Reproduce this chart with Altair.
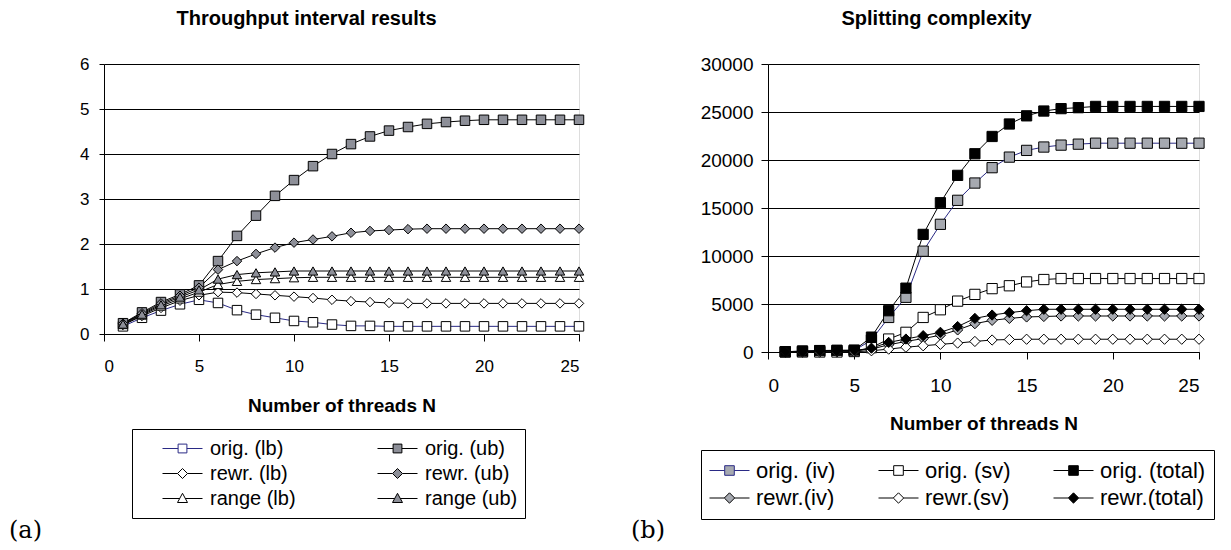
import altair as alt
import pandas as pd

FONT = "Liberation Sans"
SERIF = "DejaVu Serif"

# ---------------- data ----------------
N = list(range(1, 26))

# (a) Throughput interval results
series_a = ["orig. (lb)", "orig. (ub)", "rewr. (lb)", "rewr. (ub)", "range (lb)", "range (ub)"]
orig_lb = [0.17, 0.36, 0.52, 0.66, 0.76, 0.69, 0.53, 0.43, 0.36, 0.29, 0.26, 0.21, 0.18, 0.18, 0.17,
           0.17, 0.17, 0.17, 0.17, 0.17, 0.17, 0.17, 0.17, 0.17, 0.17]
orig_ub = [0.24, 0.48, 0.71, 0.88, 1.08, 1.62, 2.18, 2.63, 3.07, 3.42, 3.73, 4.00, 4.22, 4.39, 4.52,
           4.60, 4.67, 4.71, 4.74, 4.76, 4.76, 4.76, 4.76, 4.76, 4.76]
rewr_lb = [0.20, 0.40, 0.58, 0.74, 0.86, 0.93, 0.92, 0.89, 0.86, 0.83, 0.80, 0.76, 0.73, 0.71, 0.69,
           0.68, 0.68, 0.68, 0.68, 0.68, 0.68, 0.68, 0.68, 0.68, 0.68]
rewr_ub = [0.23, 0.46, 0.68, 0.85, 1.03, 1.43, 1.62, 1.78, 1.92, 2.03, 2.10, 2.17, 2.25, 2.29, 2.31,
           2.33, 2.34, 2.34, 2.34, 2.34, 2.34, 2.34, 2.34, 2.34, 2.34]
range_lb = [0.21, 0.42, 0.62, 0.78, 0.93, 1.10, 1.17, 1.21, 1.23, 1.25, 1.26, 1.26, 1.26, 1.26, 1.26,
            1.26, 1.26, 1.26, 1.26, 1.26, 1.26, 1.26, 1.26, 1.26, 1.26]
range_ub = [0.22, 0.44, 0.65, 0.82, 0.98, 1.22, 1.32, 1.36, 1.38, 1.40, 1.40, 1.40, 1.40, 1.40, 1.40,
            1.40, 1.40, 1.40, 1.40, 1.40, 1.40, 1.40, 1.40, 1.40, 1.40]
y_ticks_a = [0, 1, 2, 3, 4, 5, 6]

# (b) Splitting complexity
series_b = ["orig. (iv)", "orig. (sv)", "orig. (total)", "rewr.(iv)", "rewr.(sv)", "rewr.(total)"]
orig_iv = [30, 80, 130, 150, 150, 1250, 3600, 5700, 10500, 13300, 15800, 17600, 19200, 20300, 21000,
           21350, 21550, 21650, 21750, 21750, 21750, 21750, 21750, 21750, 21750]
orig_sv = [0, 0, 0, 0, 50, 450, 1350, 2050, 3600, 4400, 5300, 6000, 6600, 6900, 7300,
           7550, 7650, 7650, 7650, 7650, 7650, 7650, 7650, 7650, 7650]
orig_total = [30, 100, 150, 180, 200, 1550, 4300, 6650, 12250, 15550, 18400, 20650, 22450, 23750, 24600,
              25100, 25350, 25450, 25580, 25580, 25580, 25580, 25580, 25580, 25580]
rewr_iv = [20, 60, 100, 120, 130, 300, 750, 1100, 1400, 1750, 2300, 2950, 3300, 3500, 3650,
           3700, 3750, 3750, 3750, 3750, 3750, 3750, 3750, 3750, 3750]
rewr_sv = [0, 0, 0, 0, 20, 130, 300, 500, 650, 800, 930, 1100, 1250, 1300, 1330,
           1330, 1330, 1330, 1330, 1330, 1330, 1330, 1330, 1330, 1330]
rewr_total = [20, 60, 100, 120, 150, 400, 1000, 1350, 1700, 2050, 2650, 3500, 3850, 4100, 4300,
              4450, 4450, 4450, 4450, 4450, 4450, 4450, 4450, 4450, 4450]
y_ticks_b = [0, 5000, 10000, 15000, 20000, 25000, 30000]

x_ticks = [0, 5, 10, 15, 20, 25]
x_title = "Number of threads N"
title_a = "Throughput interval results"
title_b = "Splitting complexity"
panel_a = ["(a)"]
panel_b = ["(b)"]

# ---------------- styles ----------------
GRAY_A = "#8d8f98"
GRAY_B = "#a6a9b0"
NAVY = "#2a2a85"

SQ_A = "M-1,0H-0.22M0.22,0H1M-0.22,-0.22H0.22V0.22H-0.22Z"
DI_A = "M-1,0H-0.25M0.25,0H1M0,-0.25L0.25,0L0,0.25L-0.25,0Z"
TR_A = "M-1,0H-0.14M0.14,0H1M0,-0.26L0.25,0.2L-0.25,0.2Z"
SQ_B = "M-1,0H-0.24M0.24,0H1M-0.24,-0.24H0.24V0.24H-0.24Z"
DI_B = "M-1,0H-0.26M0.26,0H1M0,-0.26L0.26,0L0,0.26L-0.26,0Z"


def long_df(series, arrays):
    rows = []
    for k, (name, arr) in enumerate(zip(series, arrays)):
        for n, v in zip(N, arr):
            rows.append({"N": n, "value": v, "series": name, "k": k})
    return pd.DataFrame(rows)


def panel(df, series, y_dom, y_ticks, fills, shapes, leg_paths, line_cols, w, h,
          tick_fs, title_text, title_dx, leg_kw, panel_lab, lab_x, msize, xlab_pad, ytick_size,
          ylab_pad, title_pad):
    base = alt.Chart(df)
    xaxis = alt.Axis(values=x_ticks, grid=False, domainColor="black", tickColor="black",
                     tickSize=7, labelPadding=xlab_pad, labelFontSize=tick_fs, labelFont=FONT,
                     labelColor="black", title=x_title, titleFont=FONT, titleFontSize=19,
                     titleFontWeight="bold", titleColor="black", titlePadding=title_pad, format="d")
    yaxis = alt.Axis(values=y_ticks, grid=True, gridColor="black", gridWidth=1, gridOpacity=1,
                     domainColor="black", tickColor="black", tickSize=ytick_size, labelPadding=ylab_pad,
                     labelFontSize=tick_fs, labelFont=FONT, labelColor="black", title=None, format="d")
    X = alt.X("N:Q", scale=alt.Scale(domain=[0, 25], nice=False), axis=xaxis)
    Y = alt.Y("value:Q", scale=alt.Scale(domain=y_dom, nice=False), axis=yaxis)

    layers = []
    for col in dict.fromkeys(line_cols):
        members = [i for i, c in enumerate(line_cols) if c == col]
        layers.append(base.transform_filter(alt.FieldOneOfPredicate(field="k", oneOf=members))
                      .mark_line(strokeWidth=1, color=col)
                      .encode(x=X, y=Y, detail="k:O", order="N:Q"))

    fill_enc = alt.Fill("k:O", scale=alt.Scale(range=fills), legend=None)
    for shp in dict.fromkeys(shapes):
        members = [i for i, sh in enumerate(shapes) if sh == shp]
        layers.append(base.transform_filter(alt.FieldOneOfPredicate(field="k", oneOf=members))
                      .mark_point(shape=shp, filled=True, stroke="black", strokeWidth=1, opacity=1,
                                  size=msize)
                      .encode(x="N:Q", y="value:Q", fill=fill_enc))

    legend = alt.Legend(title=None, orient="none", direction="horizontal", symbolSize=1600,
                        symbolStrokeWidth=1, symbolOpacity=1,
                        labelFont=FONT, labelColor="black", strokeColor="black", fillColor="white",
                        labelLimit=400, **leg_kw)
    layers.append(base.transform_filter("false").mark_point(filled=True, strokeWidth=1, opacity=1).encode(
        x="N:Q", y="value:Q",
        color=alt.Color("series:N", scale=alt.Scale(domain=series, range=fills), legend=legend),
        stroke=alt.Stroke("series:N", scale=alt.Scale(domain=series, range=line_cols), legend=legend),
        shape=alt.Shape("series:N", scale=alt.Scale(domain=series, range=leg_paths), legend=legend)))
    layers.append(alt.Chart(pd.DataFrame({"t": panel_lab})).mark_text(
        font=SERIF, fontSize=24, align="left", baseline="middle", color="black").encode(
        x=alt.value(lab_x), y=alt.value(467), text="t:N"))
    return alt.layer(*layers).properties(
        width=w, height=h,
        title=alt.TitleParams(title_text, font=FONT, fontSize=20, fontWeight="bold", color="black",
                              anchor="middle", frame="group", dx=title_dx, offset=26))


df_a = long_df(series_a, [orig_lb, orig_ub, rewr_lb, rewr_ub, range_lb, range_ub])
df_b = long_df(series_b, [orig_iv, orig_sv, orig_total, rewr_iv, rewr_sv, rewr_total])

left = panel(df_a, series_a, [0, 6], y_ticks_a,
             ["white", GRAY_A, "white", GRAY_A, "white", GRAY_A],
             ["square", "square", "diamond", "diamond", "triangle-up", "triangle-up"],
             [SQ_A, SQ_A, DI_A, DI_A, TR_A, TR_A],
             [NAVY, "black", "black", "black", "black", "black"],
             475, 270, 17, title_a, -35,
             dict(legendX=28, legendY=365, columns=2, padding=7, symbolOffset=23, labelOffset=7,
                  columnPadding=58, rowPadding=0, clipHeight=25, labelFontSize=20),
             panel_a, -95, 90, 17, 5, 10, 22)

right = panel(df_b, series_b, [0, 30000], y_ticks_b,
              [GRAY_B, "white", "black", GRAY_B, "white", "black"],
              ["square", "square", "square", "diamond", "diamond", "diamond"],
              [SQ_B, SQ_B, SQ_B, DI_B, DI_B, DI_B],
              [NAVY, "black", "black", "black", "black", "black"],
              431, 288, 19, title_b, -47,
              dict(legendX=-67, legendY=386, columns=3, padding=8, labelOffset=6,
                   columnPadding=42, rowPadding=2.5, clipHeight=25, labelFontSize=22),
              panel_b, -137, 105, 17, 7, 8, 19)

chart = alt.hconcat(left, right, spacing=189, bounds="flush").resolve_scale(
    x="independent", y="independent", fill="independent", stroke="independent",
    color="independent", shape="independent").properties(padding=0).configure_view(
    stroke=None).configure(font=FONT)

chart.save("out.html", embed_options={"renderer": "svg", "actions": False})
